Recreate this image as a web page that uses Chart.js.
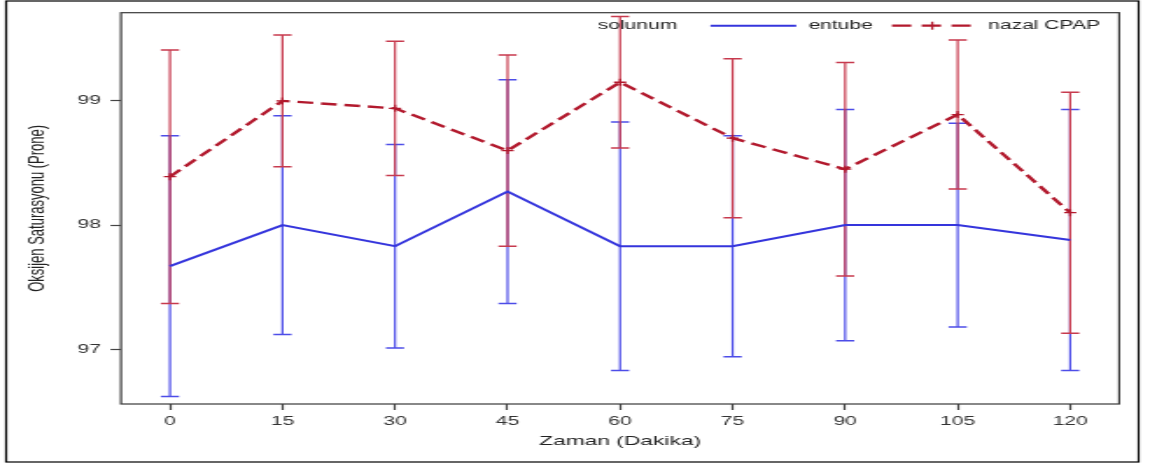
<!DOCTYPE html>
<html lang="tr">
<head>
<meta charset="UTF-8">
<title>Oksijen Saturasyonu (Prone)</title>
<script src="https://cdn.jsdelivr.net/npm/chart.js@4.4.1/dist/chart.umd.min.js"></script>
<style>
    html, body { margin: 0; padding: 0; background: #fff; }
    canvas { display: block; }
</style>
</head>
<body>
<!-- grafik dar tuvalde çizilip yatayda genişletiliyor -->
<canvas id="grafik" width="657" height="466" style="width:1150px;height:466px"></canvas>
<script>
// Zaman noktaları (dakika)
const dakika = [0, 15, 30, 45, 60, 75, 90, 105, 120];

// entube: ortalama ve standart sapma
const entubeOrt = [97.67, 98.00, 97.83, 98.27, 97.83, 97.83, 98.00, 98.00, 97.88];
const entubeSs  = [1.05, 0.88, 0.82, 0.90, 1.00, 0.89, 0.93, 0.82, 1.05];

// nazal CPAP: ortalama ve standart sapma
const cpapOrt = [98.39, 99.00, 98.94, 98.60, 99.15, 98.70, 98.45, 98.89, 98.10];
const cpapSs  = [1.02, 0.53, 0.54, 0.77, 0.53, 0.64, 0.86, 0.60, 0.97];

const yEtiketler = [97, 98, 99];

const MAVI = '#3535dc';
const KIRMIZI = '#b2192d';

Chart.defaults.font.family = '"Liberation Sans", Arial, sans-serif';

// Her noktaya ortalama ± SS hata çubuğu
const hataCubuklari = {
    id: 'hataCubuklari',
    beforeDatasetsDraw(chart) {
        const { ctx, scales: { x, y } } = chart;
        chart.data.datasets.forEach(ds => {
            ctx.save();
            ctx.strokeStyle = ds.hataRenk;
            ds.data.forEach((p, i) => {
                const px = x.getPixelForValue(p.x);
                const yUst = y.getPixelForValue(p.y + ds.hata[i]);
                const yAlt = y.getPixelForValue(p.y - ds.hata[i]);
                // dikey çizgi
                ctx.lineWidth = 1.2;
                ctx.beginPath();
                ctx.moveTo(px, yUst);
                ctx.lineTo(px, yAlt);
                ctx.stroke();
                // uç çizgileri
                ctx.lineWidth = 1.5;
                ctx.beginPath();
                ctx.moveTo(px - 5.2, yUst);
                ctx.lineTo(px + 5.2, yUst);
                ctx.moveTo(px - 5.2, yAlt);
                ctx.lineTo(px + 5.2, yAlt);
                ctx.stroke();
            });
            ctx.restore();
        });
    }
};

// Çizim alanı kutusu ve dış çerçeve
const cerceve = {
    id: 'cerceve',
    afterDraw(chart) {
        const { ctx, chartArea: a } = chart;
        ctx.save();
        ctx.strokeStyle = '#3a3a3a';
        ctx.lineWidth = 1.2;
        ctx.strokeRect(a.left, a.top, a.right - a.left, a.bottom - a.top);
        ctx.strokeStyle = '#000';
        ctx.strokeRect(3.5, 1, chart.width - 10, chart.height - 5);
        ctx.restore();
    }
};

// Üstte tek satırlık lejant: solunum —— entube — + — nazal CPAP
const lejant = {
    id: 'lejant',
    afterDraw(chart) {
        const { ctx, chartArea } = chart;
        const [entube, cpap] = chart.data.datasets;
        const baslik = 'solunum';
        ctx.save();
        ctx.font = '12px "Liberation Sans", Arial, sans-serif';
        ctx.textBaseline = 'middle';
        ctx.fillStyle = '#222';
        const w = t => ctx.measureText(t).width;
        const toplam = w(baslik) + 19 + 49 + 7 + w(entube.label) + 11 + 46 + 9 + w(cpap.label);
        const y = chartArea.top + 13;
        let x = chartArea.right - 11 - toplam;

        ctx.fillText(baslik, x, y);
        x += w(baslik) + 19;

        ctx.strokeStyle = entube.borderColor;
        ctx.lineWidth = 2;
        ctx.beginPath();
        ctx.moveTo(x, y);
        ctx.lineTo(x + 49, y);
        ctx.stroke();
        x += 49 + 7;

        ctx.fillText(entube.label, x, y);
        x += w(entube.label) + 11;

        ctx.strokeStyle = cpap.borderColor;
        ctx.lineWidth = 2.2;
        ctx.setLineDash([11, 6]);
        ctx.beginPath();
        ctx.moveTo(x, y);
        ctx.lineTo(x + 46, y);
        ctx.stroke();
        ctx.setLineDash([]);
        ctx.lineWidth = 1.3;
        ctx.beginPath();
        ctx.moveTo(x + 23, y - 4);
        ctx.lineTo(x + 23, y + 4);
        ctx.stroke();
        x += 46 + 9;

        ctx.fillText(cpap.label, x, y);
        ctx.restore();
    }
};

const ctx = document.getElementById('grafik').getContext('2d');
new Chart(ctx, {
    type: 'line',
    data: {
        datasets: [{
            label: 'entube',
            data: dakika.map((d, i) => ({ x: d, y: entubeOrt[i] })),
            hata: entubeSs,
            hataRenk: '#4d4de8',
            borderColor: MAVI,
            borderWidth: 2,
            pointRadius: 0,
            tension: 0,
            fill: false
        }, {
            label: 'nazal CPAP',
            data: dakika.map((d, i) => ({ x: d, y: cpapOrt[i] })),
            hata: cpapSs,
            hataRenk: '#c73a4e',
            borderColor: KIRMIZI,
            borderWidth: 2.4,
            borderDash: [9, 4.5],
            pointStyle: 'cross',
            pointRadius: 3.5,
            pointBorderWidth: 1.3,
            pointBorderColor: KIRMIZI,
            tension: 0,
            fill: false
        }]
    },
    options: {
        responsive: false,
        animation: false,
        layout: {
            padding: { top: 11.5, right: 17.6, bottom: 17.2, left: 13.9 }
        },
        plugins: {
            legend: { display: false },
            tooltip: { enabled: false }
        },
        scales: {
            x: {
                type: 'linear',
                min: -6.53,
                max: 126.53,
                afterBuildTicks: s => { s.ticks = dakika.map(v => ({ value: v })); },
                afterFit: s => { s.height = 44.8; },
                grid: { drawOnChartArea: false, tickLength: 6, color: '#444', tickWidth: 1.2 },
                border: { display: false },
                ticks: { padding: 4, color: '#333', font: { size: 12 }, maxRotation: 0, autoSkip: false },
                title: { display: true, text: 'Zaman (Dakika)', color: '#222', font: { size: 13 }, padding: 0 }
            },
            y: {
                min: 96.56,
                max: 99.71,
                afterBuildTicks: s => { s.ticks = yEtiketler.map(v => ({ value: v })); },
                afterFit: s => { s.width = 55.2; },
                grid: { drawOnChartArea: false, tickLength: 6, color: '#444', tickWidth: 1.2 },
                border: { display: false },
                ticks: { padding: 5.5, color: '#333', font: { size: 12 } },
                title: { display: true, text: 'Oksijen Saturasyonu (Prone)', color: '#222', font: { size: 13 }, padding: 0 }
            }
        }
    },
    plugins: [hataCubuklari, cerceve, lejant]
});
</script>
</body>
</html>
